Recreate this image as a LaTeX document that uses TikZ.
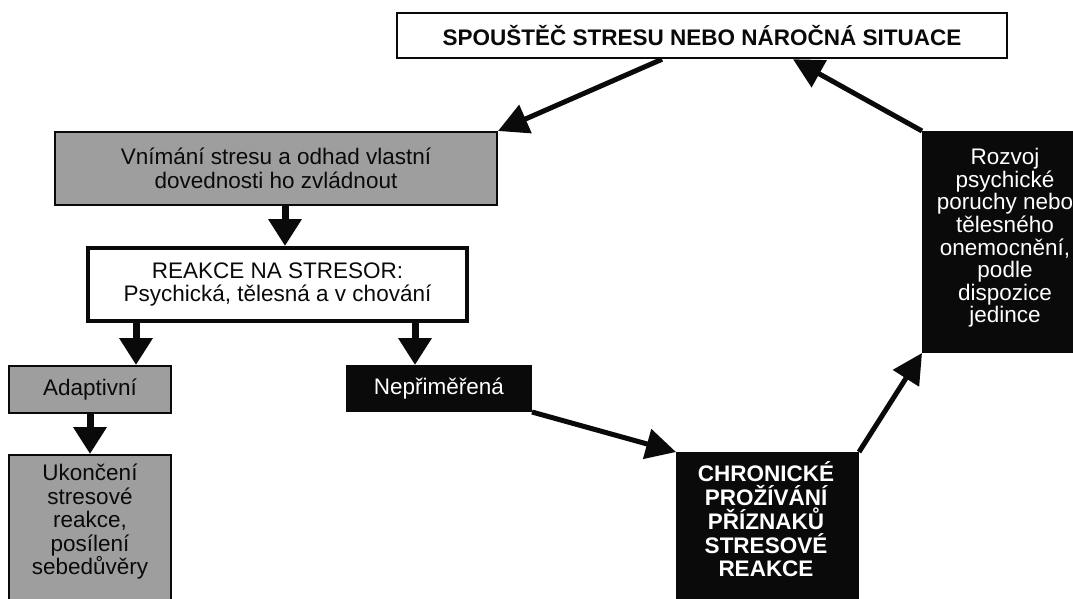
\documentclass[tikz,border=0pt]{standalone}
\usepackage{fontspec}
\setmainfont{Liberation Sans}
\usetikzlibrary{arrows.meta,calc}
\definecolor{boxgray}{RGB}{158,158,158}
\definecolor{ink}{RGB}{10,10,10}
\newcommand{\fsz}{\fontsize{22.5}{23.5}\selectfont}
\begin{document}
\begin{tikzpicture}[x=1pt,y=-1pt,
  box/.style={rectangle, draw=ink, inner sep=0pt, align=center, font=\fsz, text=ink},
  wbox/.style={box, fill=white},
  gbox/.style={box, fill=boxgray, line width=2pt},
  kbox/.style={box, fill=ink, text=white, line width=2pt},
  txt/.style={inner sep=0pt, align=center, font=\fsz},
  varrow/.style={draw=ink, line width=7pt, -{Triangle[length=27pt,width=32pt]}},
  darrow/.style={draw=ink, line width=5pt, -{Triangle[length=30pt,width=30pt]}}]
\useasboundingbox (0,0) rectangle (1073,598);
\clip (0,0) rectangle (1073,598);
\fill[white] (0,0) rectangle (1073,598);

% boxes
\node[wbox, line width=2.5pt, minimum width=610pt, minimum height=45pt, font=\fsz\bfseries] (top) at (702,35.5) {SPOUŠTĚČ STRESU NEBO NÁROČNÁ SITUACE};
\node[gbox, minimum width=442pt, minimum height=73pt] (vnim) at (276,168.5) {Vnímání stresu a odhad vlastní\\dovednosti ho zvládnout};
\node[wbox, line width=4pt, minimum width=379pt, minimum height=73pt] (reakce) at (277.5,284.5) {REAKCE NA STRESOR:\\Psychická, tělesná a v chování};
\node[gbox, minimum width=162pt, minimum height=47pt] (adapt) at (90,389.5) {Adaptivní};
\node[kbox, minimum width=184pt, minimum height=45pt] (nepr) at (439,388.5) {Nepřiměřená};
\node[gbox, minimum width=162pt, minimum height=185pt] (ukon) at (90,547.5) {};
\node[txt, text=ink] (ukontext) at (90,522) {Ukončení\\stresové\\reakce,\\posílení\\sebedůvěry};
\node[kbox, minimum width=181pt, minimum height=187pt] (chron) at (767.5,546.5) {};
\node[txt, text=white, font=\fontsize{22.5}{23.75}\selectfont\bfseries] (chrontext) at (766,519.5) {CHRONICKÉ\\PROŽÍVÁNÍ\\PŘÍZNAKŮ\\STRESOVÉ\\REAKCE};
\node[kbox, minimum width=178pt, minimum height=220pt] (rozvoj) at (1012,242) {};
\node[txt, text=white, font=\fontsize{22.5}{22.6}\selectfont] (rozvojtext) at (1005,238) {Rozvoj\\psychické\\poruchy nebo\\tělesného\\onemocnění,\\podle\\dispozice\\jedince};

% arrows
\draw[darrow] ([xshift=-40pt]top.south) -- (vnim.north east);
\draw[darrow] (rozvoj.north west) -- ([xshift=91pt]top.south);
\draw[varrow] ([xshift=9pt]vnim.south) -- ([xshift=9pt]vnim.south |- reakce.north);
\draw[varrow] ($(reakce.south west)+(50,0)$) coordinate (rl) -- (rl |- adapt.north);
\draw[varrow] ($(reakce.south west)+(329,0)$) coordinate (rr) -- (rr |- nepr.north);
\draw[varrow] (adapt.south) -- (ukon.north);
\draw[darrow] (nepr.south east) -- (chron.north west);
\draw[darrow] (chron.north east) -- (rozvoj.south west);
\end{tikzpicture}
\end{document}
